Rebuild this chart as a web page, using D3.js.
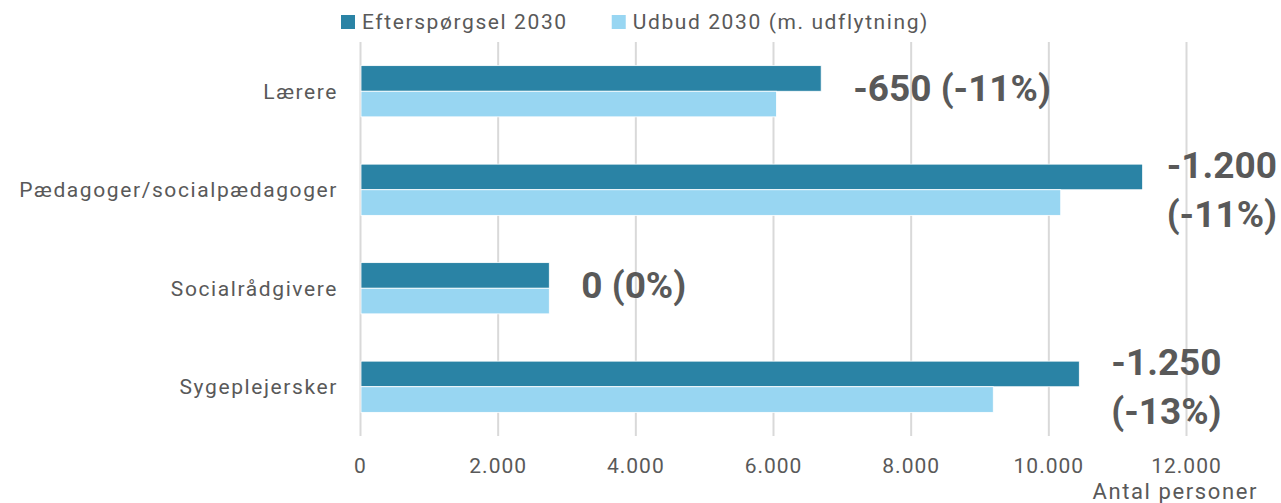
<!DOCTYPE html>
<html>
<head>
<meta charset="utf-8">
<script src="https://cdnjs.cloudflare.com/ajax/libs/d3/7.8.5/d3.min.js"></script>
<style>
    html, body { margin: 0; padding: 0; background: #fff; }
    svg text { font-family: Roboto, "Open Sans", sans-serif; fill: #595959; }
</style>
</head>
<body>
<script>
"use strict";

// categories, top to bottom
const categories = ["Lærere", "Pædagoger/socialpædagoger", "Socialrådgivere", "Sygeplejersker"];

// series
const seriesNames = ["Efterspørgsel 2030", "Udbud 2030 (m. udflytning)"];
const demand2030 = [6700, 11370, 2750, 10450];
const supply2030 = [6050, 10180, 2750, 9200];

// difference labels (one entry per line)
const gapLabels = [
    ["-650 (-11%)"],
    ["-1.200", "(-11%)"],
    ["0 (0%)"],
    ["-1.250", "(-13%)"]
];

const xTicks = [0, 2000, 4000, 6000, 8000, 10000, 12000];
const xTitle = "Antal personer";

const colors = ["#2a83a5", "#98d6f2"];

const width = 1281,
      height = 503,
      margin = { top: 42, right: 95, bottom: 67, left: 360 };

const daLocale = d3.formatLocale({ decimal: ",", thousands: ".", grouping: [3], currency: ["", " kr."] });
const fmt = daLocale.format(",d");

const svg = d3.select("body").append("svg")
              .attr("width", width)
              .attr("height", height);

const x = d3.scaleLinear()
            .domain([0, 12000])
            .range([margin.left, width - margin.right]);

const y = d3.scaleBand()
            .domain(categories)
            .range([margin.top, height - margin.bottom])
            .paddingInner(0.48)
            .paddingOuter(0.24);

const ySub = d3.scaleBand()
               .domain(d3.range(seriesNames.length))
               .range([0, y.bandwidth()]);

// grid + tick labels
const xAxis = svg.append("g")
                 .attr("transform", `translate(0,${height - margin.bottom})`)
                 .call(d3.axisBottom(x)
                         .tickValues(xTicks)
                         .tickFormat(fmt)
                         .tickSize(-(height - margin.top - margin.bottom))
                         .tickPadding(22));

xAxis.select(".domain").remove();
xAxis.selectAll(".tick line")
     .attr("stroke", "#d9d9d9")
     .attr("stroke-width", 2);
xAxis.selectAll(".tick text")
     .attr("font-size", 21)
     .attr("letter-spacing", 1)
     .attr("font-family", null);

svg.append("text")
   .attr("x", x(12000) + 72)
   .attr("y", 499)
   .attr("text-anchor", "end")
   .attr("font-size", 22)
   .attr("letter-spacing", 1.6)
   .text(xTitle);

// bars
const rows = categories.map((c, i) => ({ cat: c, values: [demand2030[i], supply2030[i]], label: gapLabels[i] }));

const groups = svg.append("g")
                  .selectAll("g")
                  .data(rows)
                  .join("g")
                  .attr("transform", d => `translate(0,${y(d.cat)})`);

groups.selectAll("rect")
      .data(d => d.values.map((v, k) => ({ v, k })))
      .join("rect")
      .attr("x", x(0) + 1)
      .attr("y", d => ySub(d.k))
      .attr("width", d => x(d.v) - x(0) - 1)
      .attr("height", ySub.bandwidth())
      .attr("fill", d => colors[d.k])
      .attr("stroke", "#fff")
      .attr("stroke-width", 0.8);

// category labels
svg.append("g")
   .selectAll("text")
   .data(categories)
   .join("text")
   .attr("x", margin.left - 22)
   .attr("y", d => y(d) + y.bandwidth() / 2)
   .attr("dy", "0.35em")
   .attr("text-anchor", "end")
   .attr("font-size", 21)
   .attr("letter-spacing", 1.6)
   .text(d => d);

// difference labels, right of the demand bar
const lineH = 49;
const labels = groups.append("text")
                     .attr("font-size", 37)
                     .attr("font-weight", "bold")
                     .attr("text-anchor", "middle");

labels.each(function (d) {
    const t = d3.select(this);
    const n = d.label.length;
    d.label.forEach((line, j) => {
        t.append("tspan")
         .attr("y", y.bandwidth() / 2 + (j - (n - 1) / 2) * lineH - (n === 1 ? 3 : 0))
         .attr("dy", "0.35em")
         .text(line);
    });
    let w = 0;
    t.selectAll("tspan").each(function () { w = Math.max(w, this.getComputedTextLength()); });
    const cx = Math.min(x(d.values[0]) + 32 + w / 2, width - 4 - w / 2);
    t.selectAll("tspan").attr("x", cx);
});

// legend
const legend = svg.append("g").attr("transform", "translate(341,22)");
let lx = 0;
seriesNames.forEach((name, k) => {
    const item = legend.append("g").attr("transform", `translate(${lx},0)`);
    item.append("rect")
        .attr("x", 0).attr("y", -7)
        .attr("width", 14).attr("height", 14)
        .attr("fill", colors[k]);
    const txt = item.append("text")
                    .attr("x", 21)
                    .attr("dy", "0.35em")
                    .attr("font-size", 21)
                    .attr("letter-spacing", 1.6)
                    .text(name);
    lx += 21 + txt.node().getComputedTextLength() + 44;
});
</script>
</body>
</html>
